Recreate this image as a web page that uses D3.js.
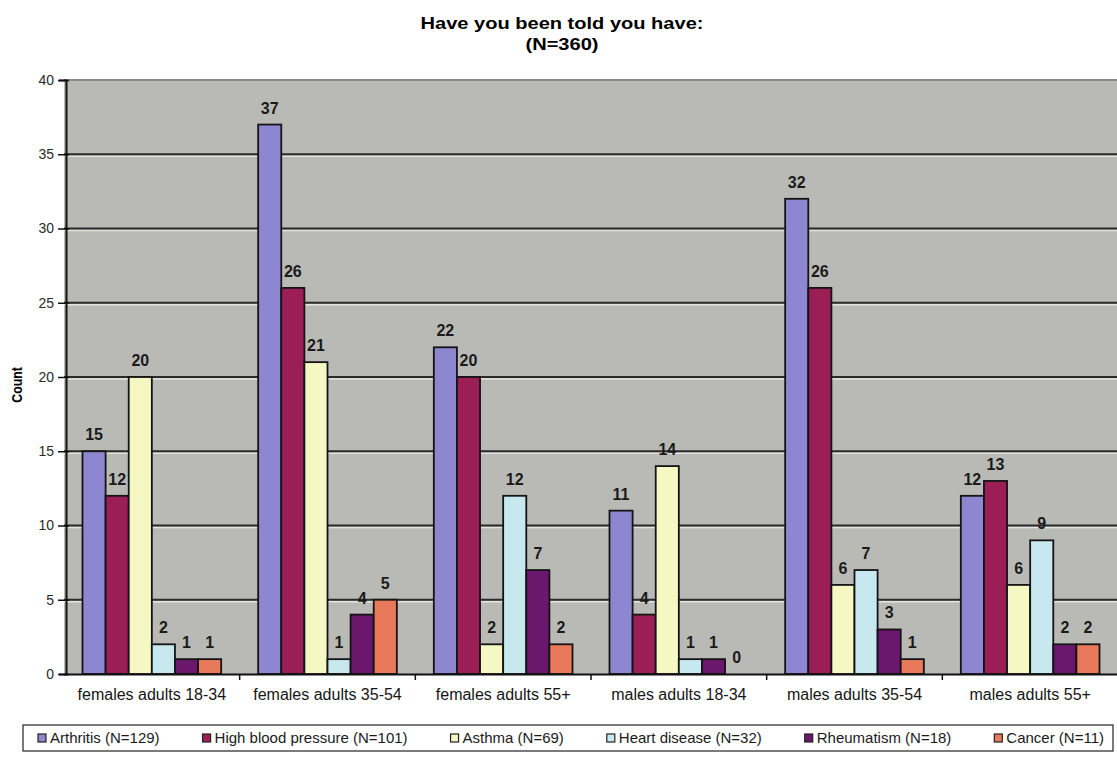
<!DOCTYPE html>
<html>
<head>
<meta charset="utf-8">
<script src="https://cdn.jsdelivr.net/npm/d3@7"></script>
<style>
  html, body { margin: 0; padding: 0; background: #ffffff; }
  svg { display: block; font-family: Arial, "Liberation Sans", sans-serif; }
</style>
</head>
<body>
<svg id="chart" width="1117" height="759"></svg>
<script>
// Categories (x axis groups)
const categories = [
  "females adults 18-34",
  "females adults 35-54",
  "females adults 55+",
  "males adults 18-34",
  "males adults 35-54",
  "males adults 55+"
];

// Series names as shown in the legend
const seriesNames = [
  "Arthritis (N=129)",
  "High blood pressure (N=101)",
  "Asthma (N=69)",
  "Heart disease (N=32)",
  "Rheumatism (N=18)",
  "Cancer (N=11)"
];

// Counts per category, one array per condition
const arthritis   = [15, 37, 22, 11, 32, 12];
const highBP      = [12, 26, 20,  4, 26, 13];
const asthma      = [20, 21,  2, 14,  6,  6];
const heart       = [ 2,  1, 12,  1,  7,  9];
const rheumatism  = [ 1,  4,  7,  1,  3,  2];
const cancer      = [ 1,  5,  2,  0,  1,  2];

const yTicks = [0, 5, 10, 15, 20, 25, 30, 35, 40];

const titleLines = ["Have you been told you have:", "(N=360)"];
const yAxisTitle = "Count";

const seriesValues = [arthritis, highBP, asthma, heart, rheumatism, cancer];
const colors = ["#8c87d0", "#9b1f56", "#f5f8c2", "#c8e8ef", "#6c176e", "#e87a5b"];

const svg = d3.select("#chart");

// Plot area geometry
const plot = { left: 64, right: 1118, top: 80, bottom: 674 };
const plotBg = "#b9bab5";

const x0 = d3.scaleBand().domain(categories).range([plot.left, plot.right]).padding(0);
const x1 = d3.scaleBand().domain(d3.range(seriesNames.length))
  .range([0, x0.bandwidth()]).paddingInner(0).paddingOuter(0.8);
const y = d3.scaleLinear().domain([0, 40]).range([plot.bottom, plot.top]);

// Background
svg.append("rect")
  .attr("x", plot.left).attr("y", plot.top)
  .attr("width", plot.right - plot.left).attr("height", plot.bottom - plot.top)
  .attr("fill", plotBg);

// Horizontal gridlines (dark line with light edge beneath)
const inner = yTicks.filter(d => d > 0 && d < 40);
const grid = svg.append("g");
grid.selectAll("line.light").data(inner).join("line")
  .attr("class", "light")
  .attr("x1", plot.left).attr("x2", plot.right)
  .attr("y1", d => y(d) + 2).attr("y2", d => y(d) + 2)
  .attr("stroke", "#e4e5e1").attr("stroke-width", 1.6);
grid.selectAll("line.dark").data(inner).join("line")
  .attr("class", "dark")
  .attr("x1", plot.left).attr("x2", plot.right)
  .attr("y1", d => y(d)).attr("y2", d => y(d))
  .attr("stroke", "#2b2b2b").attr("stroke-width", 2);
// top border of plot area
svg.append("line")
  .attr("x1", plot.left).attr("x2", plot.right)
  .attr("y1", y(40)).attr("y2", y(40))
  .attr("stroke", "#8a8b88").attr("stroke-width", 2);

// Bars
const flat = [];
categories.forEach((c, ci) => {
  seriesValues.forEach((vals, si) => {
    flat.push({ cat: c, s: si, v: vals[ci] });
  });
});

svg.append("g").selectAll("rect").data(flat).join("rect")
  .attr("x", d => x0(d.cat) + x1(d.s))
  .attr("y", d => y(d.v))
  .attr("width", x1.bandwidth())
  .attr("height", d => y(0) - y(d.v))
  .attr("fill", d => colors[d.s])
  .attr("stroke", "#141414")
  .attr("stroke-width", d => d.v > 0 ? 1.8 : 0);

// Value labels
svg.append("g").selectAll("text").data(flat).join("text")
  .attr("x", d => x0(d.cat) + x1(d.s) + x1.bandwidth() / 2)
  .attr("y", d => y(d.v) - 11)
  .attr("text-anchor", "middle")
  .attr("font-size", 16)
  .attr("font-weight", "bold")
  .attr("fill", "#1a1a1a")
  .text(d => d.v);

// Y axis
const yAxis = d3.axisLeft(y).tickValues(yTicks).tickSize(7).tickPadding(5);
const gy = svg.append("g").attr("transform", `translate(${plot.left + 2},0)`).call(yAxis);
gy.select(".domain").attr("stroke", "#111").attr("stroke-width", 2);
gy.selectAll(".tick line").attr("stroke", "#111").attr("stroke-width", 1.5).attr("x2", -8).attr("x1", 3);
gy.selectAll(".tick text").attr("font-size", 14).attr("fill", "#2a2a2a")
  .attr("font-family", "Arial, 'Liberation Sans', sans-serif");

// X axis with tick marks at category boundaries
const xAxis = d3.axisBottom(x0).tickSize(0).tickPadding(15);
const gx = svg.append("g").attr("transform", `translate(0,${plot.bottom})`).call(xAxis);
gx.select(".domain").attr("stroke", "#111").attr("stroke-width", 2);
gx.selectAll(".tick text").attr("font-size", 16).attr("fill", "#151515")
  .attr("font-family", "Arial, 'Liberation Sans', sans-serif");
svg.append("g").selectAll("line").data(categories.slice(1)).join("line")
  .attr("x1", d => x0(d)).attr("x2", d => x0(d))
  .attr("y1", plot.bottom).attr("y2", plot.bottom + 6)
  .attr("stroke", "#111").attr("stroke-width", 1.5);

// Title (slightly widened bold face)
svg.append("g").selectAll("text").data(titleLines).join("text")
  .attr("transform", (d, i) => `translate(562,${29 + i * 21}) scale(1.18,1)`)
  .attr("text-anchor", "middle")
  .attr("font-size", 17)
  .attr("font-weight", "bold")
  .attr("fill", "#000")
  .text(d => d);

// Y axis title
svg.append("text")
  .attr("transform", "translate(22,385) rotate(-90) scale(0.82,1)")
  .attr("text-anchor", "middle")
  .attr("font-size", 15)
  .attr("font-weight", "bold")
  .attr("fill", "#000")
  .text(yAxisTitle);

// Legend
const legend = { left: 23, right: 1113, top: 725, bottom: 751 };
svg.append("rect")
  .attr("x", legend.left).attr("y", legend.top)
  .attr("width", legend.right - legend.left).attr("height", legend.bottom - legend.top)
  .attr("fill", "#fff").attr("stroke", "#222").attr("stroke-width", 1.2);

const lg = svg.append("g");
const items = lg.selectAll("g").data(seriesNames).join("g");
items.append("rect")
  .attr("width", 8).attr("height", 8)
  .attr("y", -9)
  .attr("fill", (d, i) => colors[i])
  .attr("stroke", "#222").attr("stroke-width", 1.2);
items.append("text")
  .attr("x", 12)
  .attr("font-size", 15)
  .attr("fill", "#1a1a1a")
  .text(d => d);

const widths = [];
items.each(function () {
  widths.push(12 + d3.select(this).select("text").node().getComputedTextLength());
});
const startX = 38, endX = 1104;
const gap = (endX - startX - d3.sum(widths)) / (widths.length - 1);
let cx = startX;
items.attr("transform", (d, i) => {
  const t = `translate(${cx},${legend.top + 18})`;
  cx += widths[i] + gap;
  return t;
});
</script>
</body>
</html>
